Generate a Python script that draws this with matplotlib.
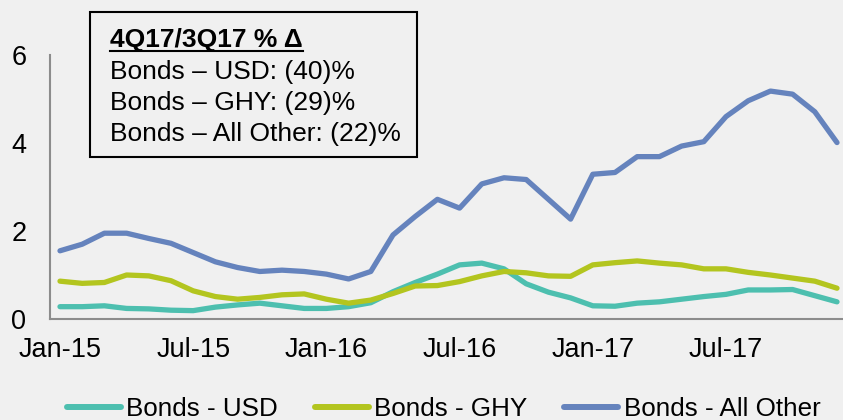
import matplotlib
matplotlib.use("Agg")
import matplotlib.pyplot as plt
from matplotlib.lines import Line2D
import numpy as np

plt.rcParams["font.family"] = ["Liberation Sans", "DejaVu Sans"]

# ── Data (monthly, Jan-15 .. Dec-17) ─────────────────────────────────────────
usd = [0.28, 0.28, 0.30, 0.24, 0.23, 0.20, 0.19, 0.27, 0.32, 0.36, 0.30, 0.24,
       0.24, 0.28, 0.37, 0.62, 0.83, 1.02, 1.23, 1.27, 1.14, 0.80, 0.61, 0.48,
       0.30, 0.29, 0.36, 0.39, 0.45, 0.51, 0.56, 0.66, 0.66, 0.67, 0.53, 0.39]
ghy = [0.86, 0.81, 0.83, 1.00, 0.98, 0.87, 0.64, 0.51, 0.45, 0.49, 0.55, 0.57,
       0.45, 0.36, 0.43, 0.58, 0.75, 0.76, 0.85, 0.98, 1.08, 1.05, 0.98, 0.97,
       1.23, 1.28, 1.32, 1.27, 1.23, 1.14, 1.14, 1.06, 1.00, 0.93, 0.86, 0.70]
other = [1.55, 1.70, 1.95, 1.95, 1.83, 1.72, 1.51, 1.30, 1.17, 1.08, 1.11, 1.08,
         1.02, 0.91, 1.08, 1.91, 2.33, 2.72, 2.52, 3.07, 3.21, 3.17, 2.72, 2.27,
         3.29, 3.33, 3.69, 3.69, 3.93, 4.03, 4.60, 4.96, 5.18, 5.11, 4.71, 4.01]
tick_pos = [0, 6, 12, 18, 24, 30]
tick_labels = ["Jan-15", "Jul-15", "Jan-16", "Jul-16", "Jan-17", "Jul-17"]
series_names = ["Bonds - USD", "Bonds - GHY", "Bonds - All Other"]
box_title = "4Q17/3Q17 % Δ"
box_lines = ["Bonds – USD: (40)%", "Bonds – GHY: (29)%", "Bonds – All Other: (22)%"]

TEAL = "#4DBFAF"
LIME = "#B3C51F"
BLUE = "#6583BD"
BG = "#F0F0F0"

W, H = 843, 420
fig = plt.figure(figsize=(W / 100, H / 100), dpi=100)
fig.patch.set_facecolor(BG)
ax = fig.add_axes([50 / W, 1 - 319 / H, 793 / W, 264 / H])
ax.set_facecolor(BG)

x = np.arange(len(usd))
lines = []
for vals, col, name in zip([usd, ghy, other], [TEAL, LIME, BLUE], series_names):
    ln, = ax.plot(x, vals, color=col, lw=3.8, solid_capstyle="round",
                  solid_joinstyle="round", label=name)
    lines.append(ln)

ax.set_xlim(-0.45, 35.27)
ax.set_ylim(0, 6)
ax.set_yticks([0, 2, 4, 6])
ax.set_xticks(tick_pos)
ax.set_xticklabels(tick_labels)
ax.tick_params(axis="y", length=0, pad=17, labelsize=19.5)
ax.tick_params(axis="x", length=0, pad=13, labelsize=19.5)
for s in ["top", "right"]:
    ax.spines[s].set_visible(False)
for s in ["left", "bottom"]:
    ax.spines[s].set_color("#8C8C8C")
    ax.spines[s].set_linewidth(1.5)

# ── Legend at the bottom ─────────────────────────────────────────────────────
leg = fig.legend(handles=lines, loc="center", bbox_to_anchor=(443.5 / W, 1 - 409 / H),
                 ncol=3, frameon=False, fontsize=18.7, handlelength=2.1,
                 handletextpad=0.2, columnspacing=1.4, borderpad=0)
for h in leg.legend_handles:
    h.set_linewidth(4.3)
    h.set_solid_capstyle("round")

# ── Annotation box ───────────────────────────────────────────────────────────
rect = plt.Rectangle((90 / W, 1 - 157 / H), 327 / W, 145 / H, transform=fig.transFigure,
                     fill=False, edgecolor="black", linewidth=1.5)
fig.add_artist(rect)
t = fig.text(110 / W, 1 - 40 / H, box_title, fontsize=19, fontweight="bold",
             va="center", ha="left")
for i, s in enumerate(box_lines):
    fig.text(110 / W, 1 - (72 + 31 * i) / H, s, fontsize=19, va="center", ha="left")

fig.canvas.draw()
bb = t.get_window_extent().transformed(fig.transFigure.inverted())
fig.add_artist(Line2D([bb.x0, bb.x1], [bb.y0 + 1 / H, bb.y0 + 1 / H],
                      transform=fig.transFigure, color="black", lw=1.5))

fig.savefig("out.png", dpi=100, facecolor=BG)
